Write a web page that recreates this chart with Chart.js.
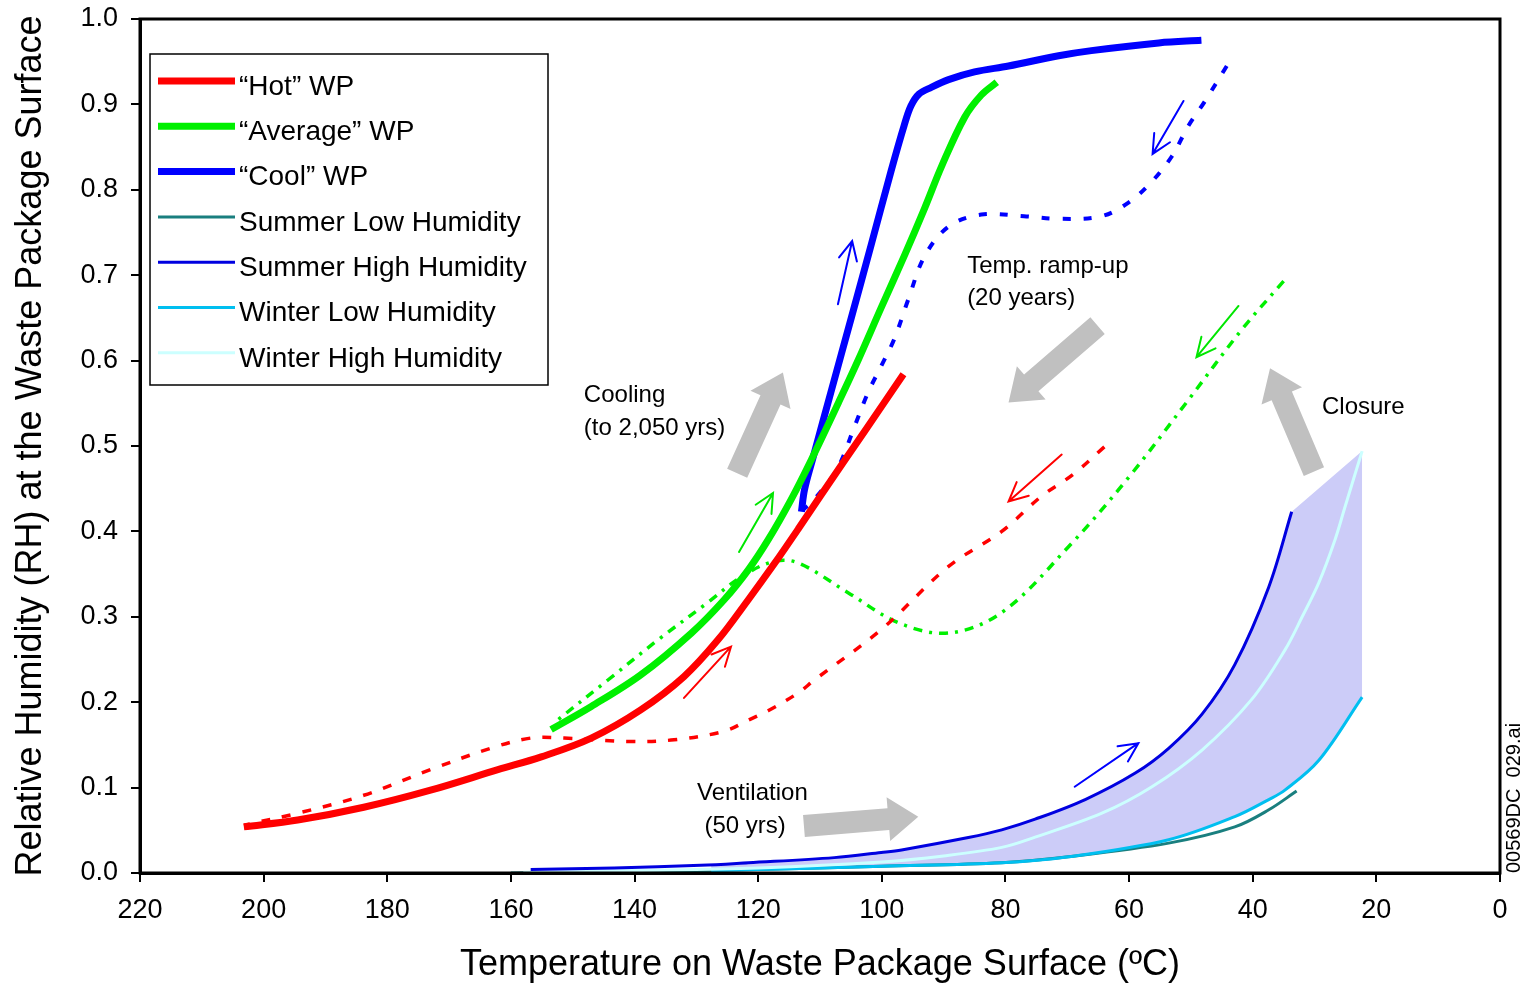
<!DOCTYPE html>
<html lang="en">
<head>
<meta charset="UTF-8">
<title>RH at the Waste Package Surface</title>
<script src="https://cdn.jsdelivr.net/npm/chart.js"></script>
<style>
  html, body { margin: 0; padding: 0; background: #fff; }
  canvas { display: block; }
</style>
</head>
<body>
<canvas id="chartRH" width="1522" height="983"></canvas>
<script>
// Temperature (C) / relative humidity pairs
var hotT  = [203.2, 194.5, 183.8, 173.0, 162.1, 155.1, 147.0, 139.0, 132.0, 126.5, 121.6, 117.4, 113.5, 109.8, 102.8, 96.5];
var hotRH = [0.054, 0.062, 0.077, 0.097, 0.121, 0.136, 0.158, 0.191, 0.230, 0.273, 0.320, 0.362, 0.403, 0.443, 0.517, 0.584];

var hotRampT  = [64.0, 69.0, 74.2, 80.6, 89.2, 100.1, 110.9, 113.5, 118.4, 121.6, 125.5, 133.6, 141.0, 151.4, 156.8, 163.3, 173.0, 183.8, 194.5, 203.2];
var hotRampRH = [0.499, 0.467, 0.441, 0.400, 0.359, 0.285, 0.226, 0.211, 0.190, 0.179, 0.166, 0.156, 0.154, 0.158, 0.158, 0.146, 0.121, 0.091, 0.070, 0.056];

var avgT  = [153.5, 147.0, 139.0, 130.8, 125.5, 121.6, 118.4, 114.7, 111.4, 107.0, 103.8, 100.1, 96.4, 93.1, 90.3, 86.6, 83.9, 81.4];
var avgRH = [0.168, 0.195, 0.232, 0.281, 0.320, 0.355, 0.390, 0.437, 0.484, 0.551, 0.601, 0.662, 0.722, 0.778, 0.828, 0.885, 0.911, 0.926];

var avgRampT  = [35.0, 41.8, 50.4, 60.1, 69.8, 80.6, 89.2, 97.3, 105.4, 113.5, 117.4, 122.7, 128.1, 136.2, 144.3, 153.0];
var avgRampRH = [0.693, 0.636, 0.554, 0.463, 0.382, 0.305, 0.281, 0.293, 0.328, 0.363, 0.365, 0.347, 0.317, 0.273, 0.226, 0.176];

var coolT  = [113.0, 112.5, 111.1, 108.2, 104.9, 101.7, 98.5, 96.4, 95.3, 94.0, 92.0, 89.2, 85.0, 79.5, 71.4, 66.1, 55.2, 48.3];
var coolRH = [0.423, 0.449, 0.487, 0.564, 0.651, 0.736, 0.822, 0.875, 0.898, 0.912, 0.920, 0.929, 0.938, 0.945, 0.957, 0.963, 0.972, 0.975];

var coolRampT  = [44.2, 47.8, 50.4, 53.1, 56.4, 60.1, 64.5, 71.4, 77.0, 83.9, 89.2, 93.1, 95.7, 98.0, 100.0, 102.2, 104.4, 107.0, 109.5, 111.4, 112.8];
var coolRampRH = [0.945, 0.903, 0.875, 0.839, 0.809, 0.785, 0.769, 0.766, 0.769, 0.771, 0.757, 0.722, 0.672, 0.625, 0.595, 0.563, 0.523, 0.476, 0.450, 0.434, 0.425];

var summerLowT  = [160, 140, 127.6, 120, 100, 80.6, 69.8, 53.6, 42.9, 37.4, 32.9];
var summerLowRH = [0.000, 0.002, 0.003, 0.004, 0.008, 0.012, 0.019, 0.035, 0.054, 0.074, 0.096];

var summerHighT  = [156.8, 143.3, 129.3, 121.6, 107.7, 100.1, 96.8, 86.0, 80.6, 75.2, 67.1, 59.0, 53.6, 48.2, 42.9, 37.4, 33.7];
var summerHighRH = [0.004, 0.006, 0.009, 0.012, 0.018, 0.024, 0.027, 0.0415, 0.0505, 0.063, 0.086, 0.117, 0.146, 0.186, 0.244, 0.335, 0.423];

var winterLowT  = [127.6, 120, 100, 80.6, 69.8, 53.6, 42.9, 37.4, 34.8, 29.3, 22.3];
var winterLowRH = [0.003, 0.004, 0.008, 0.012, 0.019, 0.039, 0.066, 0.086, 0.097, 0.132, 0.206];

var winterHighT  = [158, 140, 120, 100, 90, 80.6, 75.2, 64.4, 56.3, 48.2, 40.2, 34.8, 32.0, 29.3, 26.7, 25.1, 22.3];
var winterHighRH = [0.001, 0.003, 0.006, 0.013, 0.020, 0.030, 0.042, 0.070, 0.101, 0.144, 0.203, 0.261, 0.300, 0.340, 0.390, 0.428, 0.494];

// corner of the shaded envelope at closure
var closureT  = [22.3, 21.9];
var closureRH = [0.494, 0.206];

var xTicks = [220, 200, 180, 160, 140, 120, 100, 80, 60, 40, 20, 0];

// annotation text and arrows, in data units (T, RH)
var notes = [
  ['Cooling', 148.2, 0.551], ['(to 2,050 yrs)', 148.2, 0.513],
  ['Temp. ramp-up', 86.2, 0.703], ['(20 years)', 86.2, 0.665],
  ['Closure', 28.8, 0.537],
  ['Ventilation', 129.9, 0.086], ['(50 yrs)', 128.7, 0.047]
];
var bigArrows = [
  [123.4, 0.468, 116.0, 0.586],
  [65.1, 0.641, 79.5, 0.551],
  [30.1, 0.470, 37.2, 0.591],
  [112.6, 0.055, 94.1, 0.066]
];
var thinArrows = [
  ['#ff0000', 132.0, 0.205, 124.4, 0.265],
  ['#ff0000', 70.9, 0.490, 79.5, 0.435],
  ['#00e600', 123.1, 0.376, 117.6, 0.445],
  ['#00e600', 42.3, 0.664, 49.1, 0.604],
  ['#0000ff', 107.1, 0.666, 104.8, 0.740],
  ['#0000ff', 51.2, 0.904, 56.2, 0.842],
  ['#0000ff', 68.8, 0.101, 58.5, 0.152]
];

var FONT = "'Liberation Sans', Arial, sans-serif";

function pts(xs, ys) {
  return xs.map(function (x, i) { return { x: x, y: ys[i] }; });
}

function line(label, xs, ys, color, width, dash) {
  return {
    label: label,
    data: pts(xs, ys),
    borderColor: color,
    backgroundColor: color,
    borderWidth: width,
    borderDash: dash || [],
    showLine: true,
    pointRadius: 0,
    tension: 0.35,
    fill: false
  };
}

var datasets = [
  line('“Hot” WP', hotT, hotRH, '#ff0000', 7),
  line('“Average” WP', avgT, avgRH, '#00f000', 7),
  line('“Cool” WP', coolT, coolRH, '#0000ff', 7),
  line('hot ramp', hotRampT, hotRampRH, '#ff0000', 3.5, [9, 12]),
  line('average ramp', avgRampT, avgRampRH, '#00f000', 3.5, [9, 7, 3, 7]),
  line('cool ramp', coolRampT, coolRampRH, '#0000ff', 4, [8, 13]),
  line('Summer High Humidity', summerHighT, summerHighRH, '#0000e0', 3),
  line('Winter High Humidity', winterHighT, winterHighRH, '#ccffff', 3),
  line('Winter Low Humidity', winterLowT, winterLowRH, '#00bff0', 3),
  line('Summer Low Humidity', summerLowT, summerLowRH, '#1a7f7f', 3)
];
// shaded envelope between summer high and winter low
var envelope = line('envelope', summerHighT.concat(closureT), summerHighRH.concat(closureRH), 'rgba(0,0,0,0)', 0);
envelope.backgroundColor = '#ccccf8';
envelope.tension = 0;
envelope.fill = 8;
datasets.push(envelope);

var legendOrder = [0, 1, 2, 9, 6, 8, 7];

function toPx(chart, t, rh) {
  return [chart.scales.x.getPixelForValue(t), chart.scales.y.getPixelForValue(rh)];
}

function blockArrow(ctx, a, b) {
  var dx = b[0] - a[0], dy = b[1] - a[1];
  var len = Math.sqrt(dx * dx + dy * dy);
  var ux = dx / len, uy = dy / len, nx = -uy, ny = ux;
  var shaft = 11, head = 22, headLen = 30;
  var bx = b[0] - ux * headLen, by = b[1] - uy * headLen;
  ctx.beginPath();
  ctx.moveTo(a[0] + nx * shaft, a[1] + ny * shaft);
  ctx.lineTo(bx + nx * shaft, by + ny * shaft);
  ctx.lineTo(bx + nx * head, by + ny * head);
  ctx.lineTo(b[0], b[1]);
  ctx.lineTo(bx - nx * head, by - ny * head);
  ctx.lineTo(bx - nx * shaft, by - ny * shaft);
  ctx.lineTo(a[0] - nx * shaft, a[1] - ny * shaft);
  ctx.closePath();
  ctx.fill();
}

function thinArrow(ctx, a, b) {
  var ang = Math.atan2(b[1] - a[1], b[0] - a[0]);
  var hl = 21, spread = 0.45;
  ctx.beginPath();
  ctx.moveTo(a[0], a[1]);
  ctx.lineTo(b[0], b[1]);
  ctx.moveTo(b[0] - hl * Math.cos(ang - spread), b[1] - hl * Math.sin(ang - spread));
  ctx.lineTo(b[0], b[1]);
  ctx.lineTo(b[0] - hl * Math.cos(ang + spread), b[1] - hl * Math.sin(ang + spread));
  ctx.stroke();
}

var decorPlugin = {
  id: 'decor',
  beforeDatasetsDraw: function (chart) {
    var ctx = chart.ctx;
    ctx.save();
    ctx.fillStyle = '#c0c0c0';
    bigArrows.forEach(function (r) {
      blockArrow(ctx, toPx(chart, r[0], r[1]), toPx(chart, r[2], r[3]));
    });
    ctx.restore();
  },
  afterDatasetsDraw: function (chart) {
    var ctx = chart.ctx;
    ctx.save();
    ctx.lineWidth = 2;
    ctx.lineCap = 'round';
    thinArrows.forEach(function (r) {
      ctx.strokeStyle = r[0];
      thinArrow(ctx, toPx(chart, r[1], r[2]), toPx(chart, r[3], r[4]));
    });
    ctx.fillStyle = '#000';
    ctx.font = '24px ' + FONT;
    ctx.textAlign = 'left';
    ctx.textBaseline = 'alphabetic';
    notes.forEach(function (n) {
      var p = toPx(chart, n[1], n[2]);
      ctx.fillText(n[0], p[0], p[1]);
    });
    ctx.restore();
  },
  afterDraw: function (chart) {
    var ctx = chart.ctx, a = chart.chartArea;
    ctx.save();
    // plot frame
    ctx.strokeStyle = '#000';
    ctx.lineWidth = 3;
    ctx.strokeRect(a.left, a.top, a.right - a.left, a.bottom - a.top);

    // legend box
    var lx = a.left + 10, ly = a.top + 35;
    ctx.fillStyle = '#fff';
    ctx.fillRect(lx, ly, 398, 331);
    ctx.lineWidth = 1.5;
    ctx.strokeRect(lx, ly, 398, 331);
    ctx.font = '28px ' + FONT;
    ctx.textBaseline = 'middle';
    ctx.textAlign = 'left';
    legendOrder.forEach(function (idx, i) {
      var ds = chart.data.datasets[idx];
      var y = ly + 27 + i * 45.3;
      ctx.strokeStyle = ds.borderColor;
      ctx.lineWidth = ds.borderWidth;
      ctx.beginPath();
      ctx.moveTo(lx + 8, y);
      ctx.lineTo(lx + 85, y);
      ctx.stroke();
      ctx.fillStyle = '#000';
      ctx.fillText(ds.label, lx + 89, y + 6);
    });

    // figure id along the right edge
    ctx.translate(1520, a.bottom);
    ctx.rotate(-Math.PI / 2);
    ctx.font = '20px ' + FONT;
    ctx.textBaseline = 'alphabetic';
    ctx.fillText('00569DC  029.ai', 0, 0);
    ctx.restore();
  }
};

var ctxRH = document.getElementById('chartRH').getContext('2d');
var chartRH = new Chart(ctxRH, {
  type: 'scatter',
  data: { datasets: datasets },
  options: {
    responsive: false,
    animation: false,
    layout: { padding: { top: 19, right: 22, left: 0, bottom: 0 } },
    plugins: {
      legend: { display: false },
      tooltip: { enabled: false }
    },
    scales: {
      x: {
        type: 'linear',
        reverse: true,
        min: 0,
        max: 220,
        afterBuildTicks: function (s) { s.ticks = xTicks.map(function (v) { return { value: v }; }); },
        afterFit: function (s) { s.height = 110; s.paddingLeft = 0; s.paddingRight = 0; },
        ticks: { color: '#000', font: { family: FONT, size: 27 }, padding: 12, maxRotation: 0 },
        grid: { drawOnChartArea: false, drawTicks: true, tickLength: 9, color: '#000', lineWidth: 2 },
        border: { display: true, color: '#000', width: 3 },
        title: {
          display: true,
          text: 'Temperature on Waste Package Surface (ºC)',
          color: '#000',
          font: { family: FONT, size: 36, lineHeight: 1 },
          padding: { top: 0, bottom: 0 }
        }
      },
      y: {
        min: 0,
        max: 1,
        afterFit: function (s) { s.width = 140; s.paddingTop = 0; s.paddingBottom = 0; },
        ticks: {
          stepSize: 0.1,
          color: '#000',
          font: { family: FONT, size: 27 },
          padding: 13,
          callback: function (v) { return v.toFixed(1); }
        },
        grid: { drawOnChartArea: false, drawTicks: true, tickLength: 9, color: '#000', lineWidth: 2 },
        border: { display: true, color: '#000', width: 3 },
        title: {
          display: true,
          text: 'Relative Humidity (RH) at the Waste Package Surface',
          color: '#000',
          font: { family: FONT, size: 36, lineHeight: 1 },
          padding: { top: 13, bottom: 0 }
        }
      }
    }
  },
  plugins: [decorPlugin]
});
</script>
</body>
</html>
